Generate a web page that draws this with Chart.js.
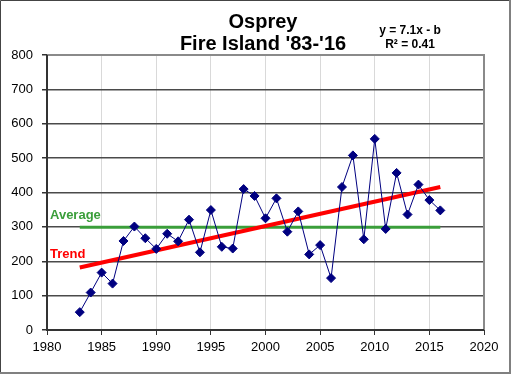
<!DOCTYPE html>
<html><head><meta charset="utf-8">
<script src="https://cdn.jsdelivr.net/npm/chart.js@4/dist/chart.umd.min.js"></script>
<style>html,body{margin:0;padding:0;background:#fff}#w{width:511px;height:374px;position:relative}</style>
</head><body><div id="w"><canvas id="c" width="511" height="374"></canvas></div>
<script>
const years = [1983,1984,1985,1986,1987,1988,1989,1990,1991,1992,1993,1994,1995,1996,1997,1998,1999,2000,2001,2002,2003,2004,2005,2006,2007,2008,2009,2010,2011,2012,2013,2014,2015,2016];
const counts = [52,109,167,135,259,301,267,236,280,258,321,226,349,242,237,410,390,325,383,286,345,220,247,151,416,508,264,556,294,457,336,423,378,348];
const averageYears = [1983,2016];
const averageValues = [299,299];
const trendYears = [1983,2016];
const trendValues = [182,416];
const titleLines = ['Osprey',"Fire Island '83-'16"];
const equationLines = ['y = 7.1x - b','R² = 0.41'];
const FONT = "'Liberation Sans', Arial, sans-serif";

const pts = (xs, ys) => xs.map((x,i)=>({x:x,y:ys[i]}));

const deco = {
  id:'deco',
  beforeDraw(chart){
    const c=chart.ctx; c.save(); c.fillStyle='#fff'; c.fillRect(0,0,chart.width,chart.height); c.restore();
  },
  afterDraw(chart){
    const c=chart.ctx, a=chart.chartArea, ys=chart.scales.y;
    c.save();
    c.strokeStyle='#8a8a8a'; c.lineWidth=2;
    c.beginPath(); c.moveTo(a.left,a.top); c.lineTo(a.right,a.top); c.lineTo(a.right,a.bottom); c.stroke();
    c.strokeStyle='#333'; c.lineWidth=2;
    c.beginPath(); c.moveTo(a.left,a.top); c.lineTo(a.left,a.bottom); c.lineTo(a.right,a.bottom); c.stroke();
    c.font='bold 13px '+FONT; c.textBaseline='middle'; c.textAlign='left';
    c.fillStyle='#3a9e3a'; c.fillText('Average', a.left+3, ys.getPixelForValue(averageValues[0])-12);
    c.fillStyle='#ff0000'; c.fillText('Trend', a.left+3, ys.getPixelForValue(trendValues[0])-13);
    c.fillStyle='#000'; c.textAlign='center';
    c.font='bold 20px '+FONT;
    c.fillText(titleLines[0], 263, 22);
    c.fillText(titleLines[1], 263, 44);
    c.font="bold 12px 'Liberation Sans Narrow', 'Liberation Sans', Arial, sans-serif";
    c.fillText(equationLines[0], 410, 31);
    c.fillText(equationLines[1], 410, 45);
    c.strokeStyle='#444'; c.lineWidth=1;
    c.beginPath(); c.moveTo(0.5,chart.height); c.lineTo(0.5,0.5); c.lineTo(chart.width,0.5); c.stroke();
    c.strokeStyle='#808080'; c.lineWidth=2;
    c.beginPath(); c.moveTo(chart.width-1,0); c.lineTo(chart.width-1,chart.height-1); c.lineTo(0,chart.height-1); c.stroke();
    c.restore();
  }
};

new Chart(document.getElementById('c'), {
  type:'scatter',
  data:{datasets:[
    {label:'Average', data:pts(averageYears,averageValues), showLine:true, borderColor:'#3a9e3a', borderWidth:3, pointRadius:0, order:3},
    {label:'Trend', data:pts(trendYears,trendValues), showLine:true, borderColor:'#ff0000', borderWidth:4, pointRadius:0, order:2},
    {label:'Osprey', data:pts(years,counts), showLine:true, borderColor:'#000080', borderWidth:1, backgroundColor:'#000080', pointStyle:'rectRot', pointRadius:4.5, pointBorderWidth:1, order:1}
  ]},
  options:{
    responsive:false, animation:false,
    layout:{padding:{left:0,top:55,right:27,bottom:0}},
    plugins:{legend:{display:false}, tooltip:{enabled:false}, title:{display:false}},
    scales:{
      x:{type:'linear', min:1980, max:2020,
        afterFit(s){ s.height=44; },
        border:{display:false},
        grid:{color:'#d9d9d9', lineWidth:1, tickColor:'#333', tickLength:5, drawTicks:true},
        ticks:{stepSize:5, color:'#000', font:{family:FONT,size:13}, padding:5, maxRotation:0, callback:v=>String(v)}
      },
      y:{min:0, max:800,
        afterFit(s){ s.width=47; },
        border:{display:false},
        grid:{color:'#4a4a4a', lineWidth:1.5, tickColor:'#333', tickLength:5},
        ticks:{stepSize:100, color:'#000', font:{family:FONT,size:13}, padding:9}
      }
    }
  },
  plugins:[deco]
});
</script></body></html>
